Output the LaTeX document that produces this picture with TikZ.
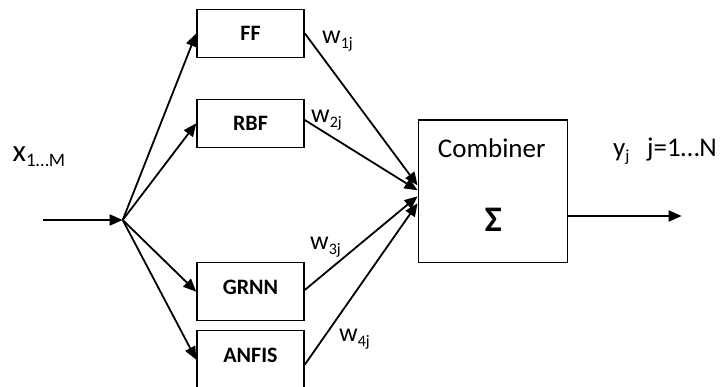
\documentclass[tikz,border=0pt]{standalone}
\usepackage{fontspec}
\setmainfont{Carlito}
\usetikzlibrary{arrows.meta}
\newcommand{\lsub}[2][16]{\raisebox{-5pt}{\fontsize{#1}{#1}\selectfont #2}}
\begin{document}
\begin{tikzpicture}[x=1pt,y=-1pt,
  blk/.style={draw, line width=1.5pt, minimum width=107pt, inner sep=0pt,
    font=\fontsize{22}{24}\selectfont\bfseries},
  conn/.style={line width=1.8pt, -{Triangle[length=13pt,width=11pt]}},
  lbl/.style={inner sep=0pt, font=\fontsize{26}{30}\selectfont}
]
\clip (0,0) rectangle (725,387);
\fill[white] (0,0) rectangle (725,387);

% processing blocks
\node[blk, minimum height=48pt] (ff) at (250.5,33.3) {FF};
\node[blk, minimum height=48pt] (rbf) at (250.5,123.3) {RBF};
\node[blk, minimum height=58pt, text depth=9pt] (grnn) at (250.5,291.7) {GRNN};
\node[blk, minimum height=58pt, text depth=9pt] (anfis) at (250.5,359.7) {ANFIS};

% combiner
\node[draw, line width=1.5pt, minimum width=149pt, minimum height=142.7pt, inner sep=0pt] (comb) at (492.8,191.3) {};
\node[lbl, font=\fontsize{27}{30}\selectfont] (combt) at (491.7,148) {Combiner};
\node[inner sep=0pt, font=\fontsize{36}{40}\selectfont\bfseries] (sig) at (493.3,220) {Σ};

% free ends
\coordinate (in) at (42.7,220);
\coordinate (br) at (122.7,220);
\coordinate (out) at (681.7,216);

% connectors
\draw[conn] (in) -- (br);
\draw[conn] (br) -- (ff.west);
\draw[conn] (br) -- (rbf.west);
\draw[conn] (br) -- (grnn.west);
\draw[conn] (br) -- (anfis.west);
\draw[conn] (ff.east) -- ([yshift=6pt]comb.west);
\draw[conn] ([yshift=3.3pt]rbf.east) -- ([yshift=1pt]comb.west);
\draw[conn] ([yshift=1.7pt]grnn.east) -- ([yshift=-5pt]comb.west);
\draw[conn] ([yshift=-5pt]anfis.east) -- ([yshift=-12pt]comb.west);
\draw[conn] ([yshift=-24.7pt]comb.east) -- (out);

% labels
\node[lbl, anchor=base west, font=\fontsize{31}{34}\selectfont] (xin) at (12.5,161.7) {x\lsub[19]{1…M}};
\node[lbl, anchor=base west] (w1) at (322,43.5) {w\lsub{1j}};
\node[lbl, anchor=base west] (w2) at (311,122.7) {w\lsub{2j}};
\node[lbl, anchor=base west] (w3) at (310,250) {w\lsub{3j}};
\node[lbl, anchor=base west] (w4) at (339,341.7) {w\lsub{4j}};
\node[lbl, anchor=base west, font=\fontsize{27}{30}\selectfont] (yo) at (613,157) {y\lsub[17]{j}};
\node[lbl, anchor=base west, font=\fontsize{27}{30}\selectfont] (jr) at (647,157) {j=1…N};
\end{tikzpicture}
\end{document}
